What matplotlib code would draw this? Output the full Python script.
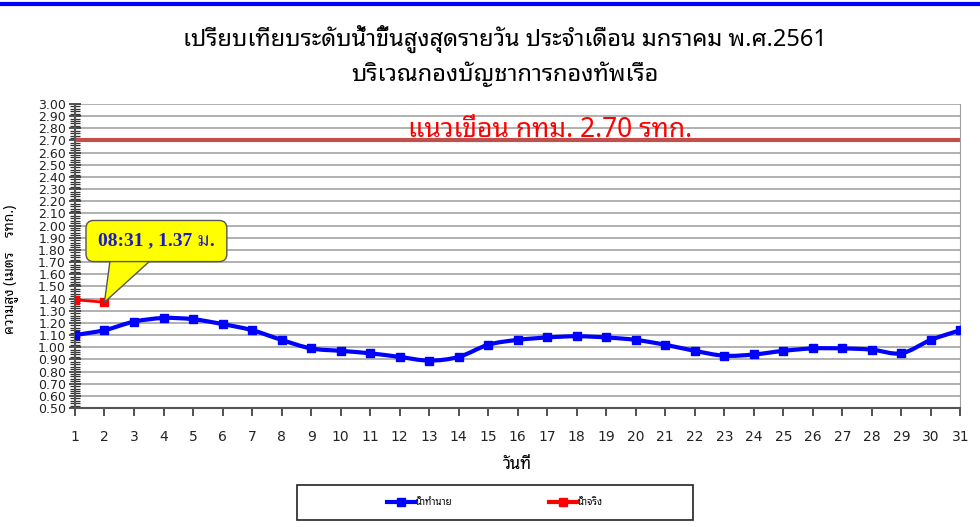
import matplotlib
matplotlib.use("Agg")
import matplotlib.pyplot as plt
from matplotlib.lines import Line2D
from matplotlib.patches import Rectangle, PathPatch
from matplotlib.path import Path
from matplotlib.ticker import MultipleLocator, FormatStrFormatter
import numpy as np

THAI = ["Noto Sans Thai Looped", "DejaVu Sans"]
plt.rcParams["font.family"] = THAI

# data
days = list(range(1, 32))
predicted = [1.10, 1.14, 1.21, 1.24, 1.23, 1.19, 1.14, 1.06, 0.99, 0.97,
             0.95, 0.92, 0.89, 0.92, 1.02, 1.06, 1.08, 1.09, 1.08, 1.06,
             1.02, 0.97, 0.93, 0.94, 0.97, 0.99, 0.99, 0.98, 0.95, 1.06,
             1.14]
actual_days = [1, 2]
actual = [1.39, 1.37]
dam_level = 2.70

title = "เปรียบเทียบระดับน้ำขึ้นสูงสุดรายวัน ประจำเดือน มกราคม พ.ศ.2561\nบริเวณกองบัญชาการกองทัพเรือ"
dam_label = "แนวเขื่อน กทม. 2.70 รทก."
callout = "08:31 , 1.37 ม."
series_names = ["น้ำทำนาย", "น้ำจริง"]


def smooth_path(xs, ys):
    # excel-style smoothed line: cubic bezier through every point
    pts = np.column_stack([xs, ys]).astype(float)
    verts = [pts[0]]
    codes = [Path.MOVETO]
    n = len(pts)
    for i in range(n - 1):
        p0 = pts[i - 1] if i > 0 else pts[i]
        p1 = pts[i]
        p2 = pts[i + 1]
        p3 = pts[i + 2] if i + 2 < n else pts[i + 1]
        c1 = p1 + (p2 - p0) / 6.0
        c2 = p2 - (p3 - p1) / 6.0
        verts += [c1, c2, p2]
        codes += [Path.CURVE4] * 3
    return Path(verts, codes)


fig = plt.figure(figsize=(9.8, 5.27), dpi=100)
ax = fig.add_axes([0.0765, 0.2258, 0.9035, 0.5769])

ax.set_xlim(1, 31)
ax.set_ylim(0.5, 3.0)

ax.yaxis.set_major_locator(MultipleLocator(0.1))
ax.yaxis.set_minor_locator(MultipleLocator(0.02))
ax.yaxis.set_major_formatter(FormatStrFormatter("%.2f"))
ax.set_xticks(days)
ax.grid(axis="y", which="major", color="#b0b0b0", linewidth=1.4)
ax.set_axisbelow(True)

ax.spines["top"].set_visible(False)
ax.spines["right"].set_color("#a0a0a0")
ax.spines["left"].set_color("#555555")
ax.spines["left"].set_linewidth(1.5)
ax.spines["bottom"].set_color("#555555")
ax.spines["bottom"].set_linewidth(1.5)

ax.tick_params(axis="y", which="major", direction="inout", length=9, width=1.2,
               color="#333333", labelsize=9, pad=2, labelcolor="#222222")
ax.tick_params(axis="y", which="minor", direction="inout", length=7, width=0.9,
               color="#333333")
ax.tick_params(axis="x", direction="out", length=6, width=1.2, color="#333333",
               labelsize=10, pad=10, labelcolor="#222222")
for lab in ax.get_yticklabels() + ax.get_xticklabels():
    lab.set_family("DejaVu Sans")

ax.axhline(dam_level, color="#c0504d", linewidth=3, zorder=2)
ax.text(17.1, 2.725, dam_label, color="#ff0000", fontsize=19, ha="center",
        va="baseline", zorder=3)

ax.add_patch(PathPatch(smooth_path(days, predicted), facecolor="none",
                       edgecolor="#0000ff", linewidth=3, zorder=4))
ax.plot(days, predicted, linestyle="none", marker="s", markersize=6,
        color="#0000ff", zorder=5)
ax.plot(actual_days, actual, color="#ff0000", linewidth=2, marker="s",
        markersize=6, zorder=6)

# callout: the wedge starts inside the box so the box hides its base
ax.annotate(callout, xy=(actual_days[1], actual[1]), xytext=(3.76, 1.873),
            ha="center", va="center", color="#1a1acc", fontsize=14,
            fontweight="bold", family=["Liberation Serif", "Noto Serif Thai"],
            bbox=dict(boxstyle="round,pad=0.62,rounding_size=0.4",
                      facecolor="#ffff00", edgecolor="#555555", linewidth=1),
            arrowprops=dict(arrowstyle="wedge,tail_width=2.6,shrink_factor=0.5",
                            connectionstyle="arc3,rad=0",
                            facecolor="#ffff00", edgecolor="#555555",
                            linewidth=1, relpos=(0.33, 0.5), patchA=None,
                            shrinkA=0, shrinkB=0),
            zorder=7)

ax.set_xlabel("วันที่", fontsize=12, fontweight="bold", labelpad=9)
ax.set_ylabel("ความสูง (เมตร    รทก.)", fontsize=10)
ax.yaxis.set_label_coords(-0.064, 0.455)

fig.text(0.515, 0.894, title, ha="center", va="center", fontsize=17,
         linespacing=1.45)

# top blue border and the legend box at the bottom
fig.add_artist(Line2D([0, 1], [0.993, 0.993], transform=fig.transFigure,
                      color="#0000ff", linewidth=3))
fig.add_artist(Rectangle((0.303, 0.013), 0.404, 0.066, transform=fig.transFigure,
                         facecolor="none", edgecolor="#222222", linewidth=1.2))
handles = [Line2D([], [], color="#0000ff", linewidth=3, marker="s", markersize=6),
           Line2D([], [], color="#ff0000", linewidth=3, marker="s", markersize=6)]
fig.legend(handles, series_names, loc="center", bbox_to_anchor=(0.505, 0.046),
           ncol=2, frameon=False, fontsize=7, handlelength=2.8,
           handletextpad=0.1, columnspacing=10)

fig.savefig("out.png", dpi=100)
